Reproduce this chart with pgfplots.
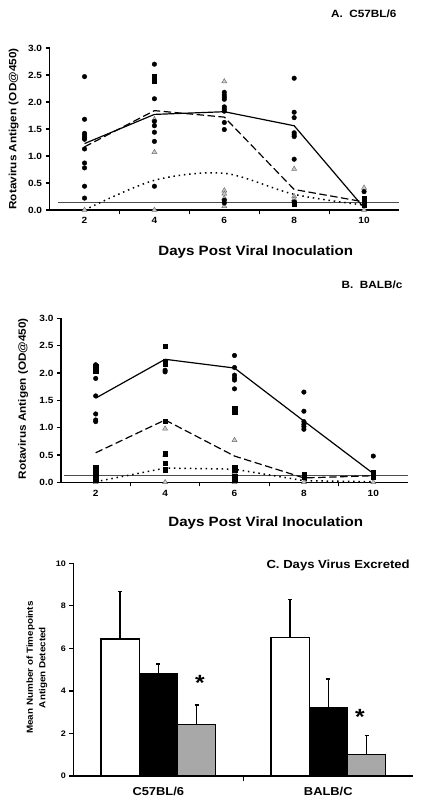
\documentclass[border=0pt]{standalone}
\usepackage{fontspec}
\setmainfont{Liberation Sans}[FakeStretch=1.12]
\usepackage{pgfplots}
\pgfplotsset{compat=1.18}
\definecolor{trifill}{gray}{0.80}
\definecolor{tridraw}{gray}{0.45}
\definecolor{bargray}{gray}{0.66}
\pgfplotsset{
  panel/.style={
    scale only axis,
    axis lines*=left,
    axis line style={line width=1.4pt},
    xmin=1, xmax=11, ymin=0, ymax=3,
    xtick={2,4,6,8,10},
    minor x tick num=1,
    major x tick style={draw=none},
    minor x tick style={line width=1.2pt, black},
    ytick={0,0.5,...,3.0},
    ytick style={line width=1.2pt, black},
    tick align=outside,
    major tick length=4pt, minor tick length=4pt,
    yticklabel style={/pgf/number format/.cd, fixed, fixed zerofill, precision=1},
    /pgf/number format/assume math mode=true,
    tick label style={font=\fontsize{9}{10}\selectfont\bfseries},
    label style={font=\fontsize{10.5}{12}\selectfont\bfseries},
    clip=false,
  },
  circ/.style={only marks, mark=*, mark size=2.3pt, mark options={fill=black, draw=black}},
  sq/.style={only marks, mark=square*, mark size=2.2pt, mark options={fill=black, draw=black}},
  tri/.style={only marks, mark=triangle*, mark size=2.9pt, mark options={fill=trifill, draw=tridraw, line width=0.5pt}},
  meanline/.style={black, line width=1.2pt, no marks},
  dotline/.style={black, line width=1.5pt, no marks, dash pattern=on 1.5pt off 3.8pt},
}
\begin{document}
\begin{tikzpicture}[x=1pt,y=1pt]
\path[use as bounding box] (0,0) rectangle (422,808);

% ---------------- Panel A ----------------
\node[anchor=east, font=\fontsize{10.5}{12}\selectfont\bfseries] at (400,794) {A.\ \ C57BL/6};
\begin{axis}[panel, at={(49.6pt,598pt)}, anchor=south west, width=349.4pt, height=162pt,
  xlabel={Days Post Viral Inoculation},
  xlabel style={at={(axis description cs:0.59,-0.257)}, anchor=center, font=\fontsize{13.5}{15}\selectfont\bfseries},
  ylabel={Rotavirus Antigen (OD@450)},
  ylabel style={at={(axis description cs:-0.103,0.5)}, anchor=center, rotate=0},
]
\addplot[gray!60!black, line width=0.6pt, no marks] coordinates {(1.25,0.14) (11,0.14)};
\addplot[tri] coordinates {(2,0) (4,1.68) (4,1.07) (4,0) (6,2.38) (6,0.36) (6,0.30) (6,0.22) (6,0.07) (8,0.76) (8,0.25) (8,0.20) (10,0.41) (10,0)};
\addplot[sq] coordinates {(4,2.47) (4,2.43) (4,2.39) (8,0.12) (10,0.22) (10,0.17) (10,0.13) (10,0.09)};
\addplot[circ] coordinates {(2,2.47) (2,1.68) (2,1.42) (2,1.38) (2,1.34) (2,1.31) (2,1.13) (2,0.87) (2,0.78) (2,0.44) (2,0.22)
 (4,2.70) (4,2.06) (4,1.64) (4,1.56) (4,1.44) (4,1.27) (4,0.44)
 (6,2.18) (6,2.13) (6,2.09) (6,2.05) (6,1.91) (6,1.87) (6,1.83) (6,1.62) (6,1.49) (6,0.18) (6,0.13)
 (8,2.44) (8,1.81) (8,1.71) (8,1.43) (8,1.39) (8,1.36) (8,0.94) (8,0.15)
 (10,0.34)};
\addplot[meanline] coordinates {(2,1.23) (4,1.77) (6,1.82) (8,1.56) (10,0.04)};
\addplot[meanline, dash pattern=on 7.5pt off 3.5pt] coordinates {(2,1.17) (4,1.84) (6,1.72) (8,0.38) (10,0.15)};
\addplot[dotline, smooth, tension=0.5] coordinates {(2,0) (4,0.55) (6,0.68) (8,0.29) (10,0.09)};
\end{axis}

% ---------------- Panel B ----------------
\node[anchor=east, font=\fontsize{10.5}{12}\selectfont\bfseries] at (406,523) {B.\ \ BALB/c};
\begin{axis}[panel, at={(61pt,325.7pt)}, anchor=south west, width=347pt, height=164pt,
  xlabel={Days Post Viral Inoculation},
  xlabel style={at={(axis description cs:0.59,-0.25)}, anchor=center, font=\fontsize{13.5}{15}\selectfont\bfseries},
  ylabel={Rotavirus Antigen (OD@450)},
  ylabel style={at={(axis description cs:-0.109,0.51)}, anchor=center, rotate=0},
]
\addplot[gray!60!black, line width=0.6pt, no marks] coordinates {(1.1,0.13) (11,0.13)};
\addplot[tri] coordinates {(2,0) (4,0.98) (4,0.50) (4,0) (6,0.77) (6,0.18) (6,0) (8,0) (10,0)};
\addplot[sq] coordinates {(2,2.12) (2,2.08) (2,2.04) (2,0.27) (2,0.23) (2,0.16) (2,0.10) (2,0.04)
 (4,2.49) (4,2.21) (4,2.16) (4,1.12) (4,0.52) (4,0.35) (4,0.23)
 (6,1.35) (6,1.29) (6,0.27) (6,0.23) (6,0.10) (6,0.04)
 (8,0.15) (8,0.10) (10,0.18) (10,0.13) (10,0.09)};
\addplot[circ] coordinates {(2,2.15) (2,1.90) (2,1.58) (2,1.25) (2,1.14) (2,1.11)
 (4,2.05) (4,2.02)
 (6,2.32) (6,2.10) (6,1.96) (6,1.91) (6,1.87) (6,1.71)
 (8,1.65) (8,1.30) (8,1.11) (8,1.06) (8,1.02) (8,0.97)
 (10,0.48)};
\addplot[meanline] coordinates {(2,1.54) (4,2.25) (6,2.09) (8,1.12) (10,0.16)};
\addplot[meanline, dash pattern=on 7.5pt off 3.5pt] coordinates {(2,0.54) (4,1.14) (6,0.48) (8,0.08) (10,0.12)};
\addplot[dotline] coordinates {(2,0.01) (4,0.26) (6,0.24) (8,0.03) (10,0.01)};
\end{axis}

% ---------------- Panel C ----------------
\begin{axis}[at={(73.3pt,32pt)}, anchor=south west, scale only axis, width=340pt, height=212.7pt,
  axis lines*=left, axis line style={line width=1.4pt},
  xmin=0.5, xmax=2.5, ymin=0, ymax=10,
  ybar=0pt, bar width=0.225,
  xtick={1,2}, xticklabels={C57BL/6, BALB/C},
  minor x tick num=1,
  major x tick style={draw=none},
  minor x tick style={line width=1.2pt, black},
  ytick={0,2,...,10}, ytick style={line width=1.2pt, black},
  tick align=outside, major tick length=4pt, minor tick length=5pt,
  /pgf/number format/assume math mode=true,
  yticklabel style={font=\fontsize{8}{9}\selectfont\bfseries},
  xticklabel style={font=\fontsize{11.5}{13}\selectfont\bfseries, yshift=-4pt},
  ylabel={Mean Number of Timepoints\\Antigen Detected},
  ylabel style={at={(axis description cs:-0.107,0.51)}, anchor=center, align=center, font=\fontsize{8.8}{12.5}\selectfont\bfseries},
  error bars/y dir=plus, error bars/y explicit,
  error bars/error bar style={line width=1.3pt, black},
  error bars/error mark options={rotate=90, mark size=2pt, line width=1.3pt, black},
  clip=false,
]
\addplot[draw=black, fill=white, line width=1.2pt] coordinates {(1,6.44) +- (0,2.23) (2,6.50) +- (0,1.79)};
\addplot[draw=black, fill=black, line width=1.2pt] coordinates {(1,4.83) +- (0,0.44) (2,3.21) +- (0,1.35)};
\addplot[draw=black, fill=bargray, line width=1.2pt] coordinates {(1,2.41) +- (0,0.93) (2,1.00) +- (0,0.90)};
\node[font=\fontsize{22}{22}\selectfont\bfseries, yshift=-4pt] at (axis cs:1.245,4.55) {*};
\node[font=\fontsize{22}{22}\selectfont\bfseries, yshift=-4pt] at (axis cs:2.186,2.98) {*};
\node[anchor=east, font=\fontsize{11.7}{13}\selectfont\bfseries] at (axis description cs:1.0,0.992) {C. Days Virus Excreted};
\end{axis}
\end{tikzpicture}
\end{document}
